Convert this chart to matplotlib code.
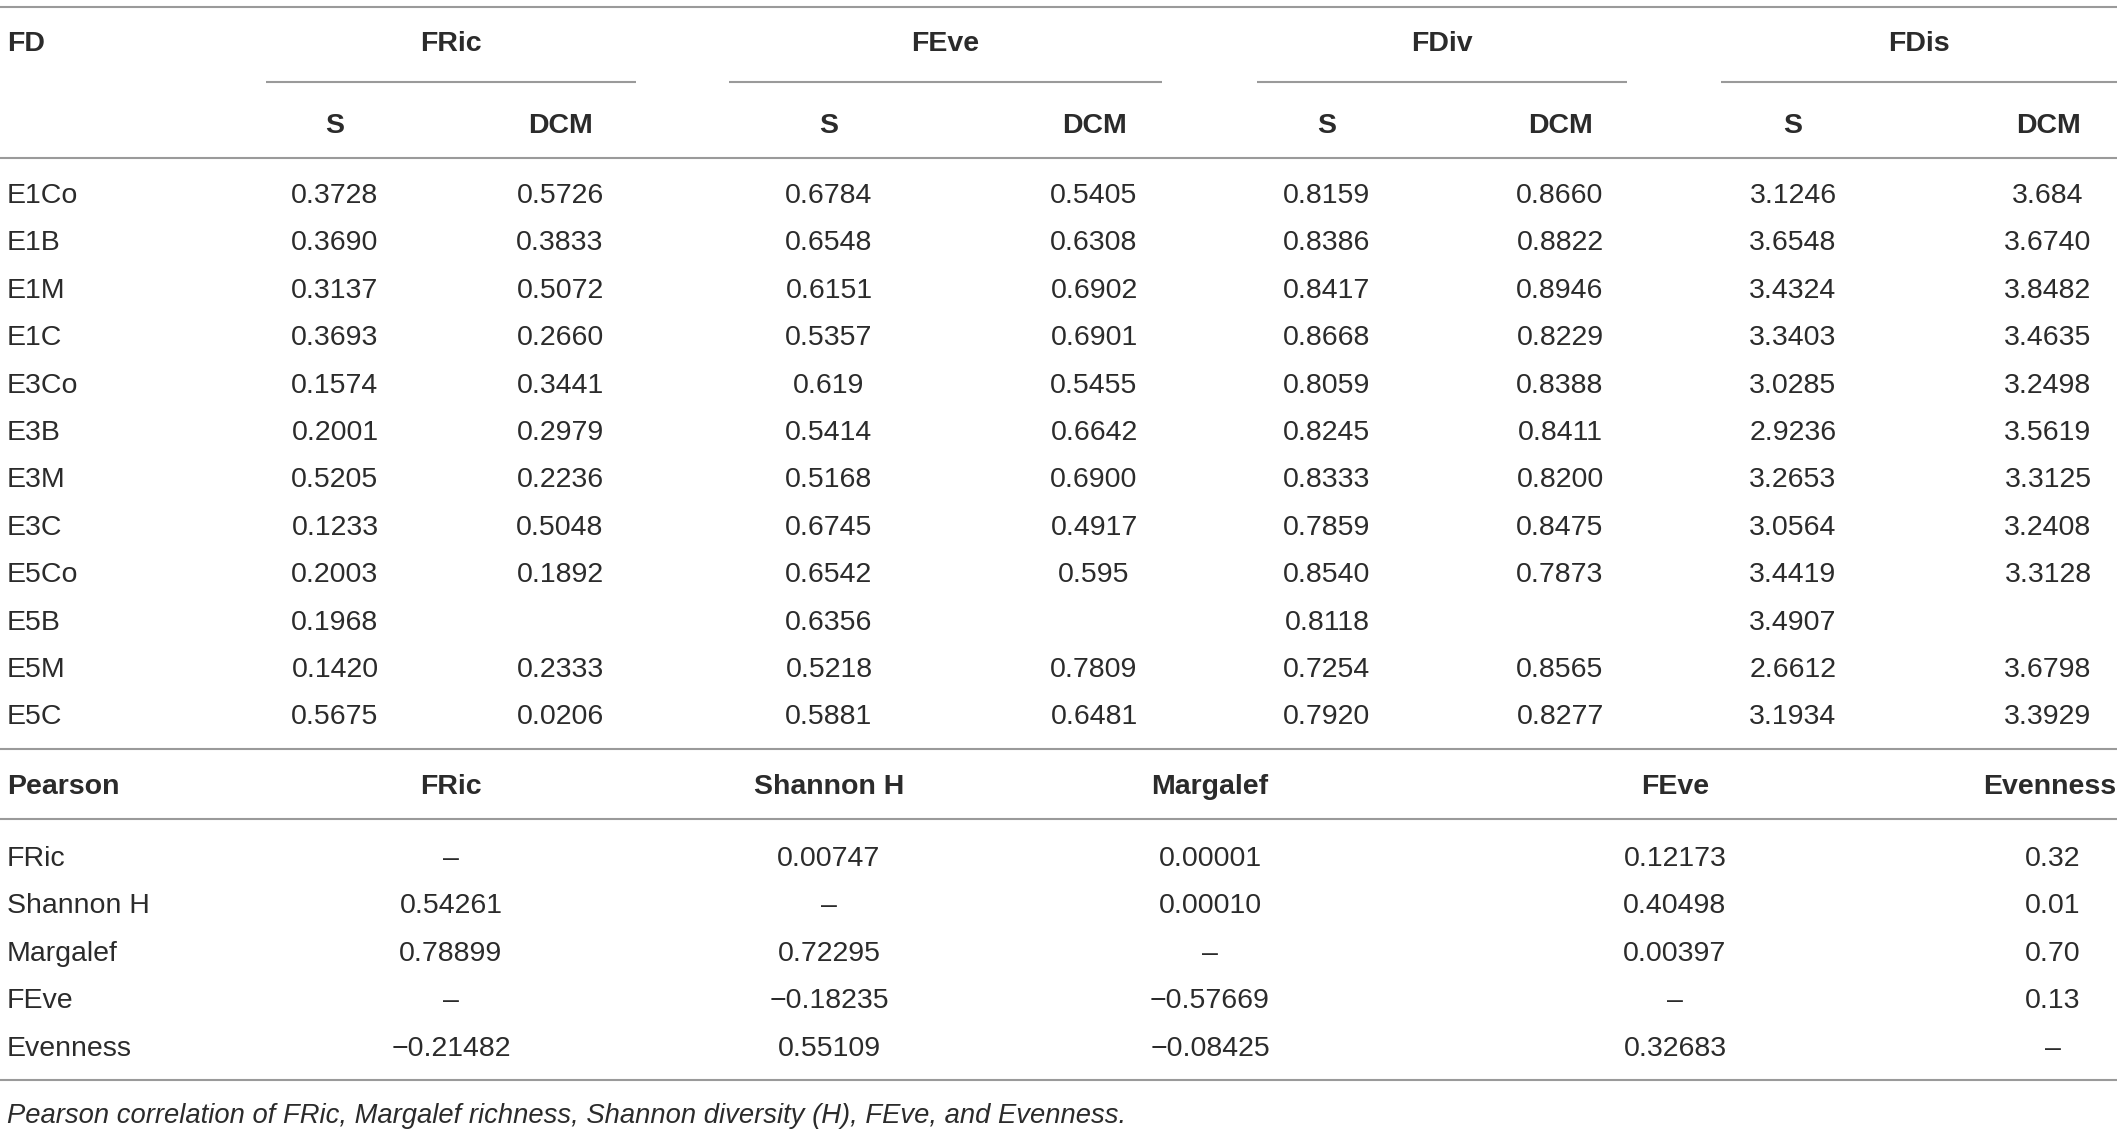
import matplotlib
matplotlib.use("Agg")
import matplotlib.pyplot as plt

plt.rcParams['font.family'] = ['Liberation Sans', 'DejaVu Sans']

# FD table
fd_groups = ["FRic", "FEve", "FDiv", "FDis"]
fd_sub = ["S", "DCM"]
sites = ["E1Co", "E1B", "E1M", "E1C", "E3Co", "E3B", "E3M", "E3C",
         "E5Co", "E5B", "E5M", "E5C"]
fric_s = ["0.3728", "0.3690", "0.3137", "0.3693", "0.1574", "0.2001", "0.5205", "0.1233",
          "0.2003", "0.1968", "0.1420", "0.5675"]
fric_dcm = ["0.5726", "0.3833", "0.5072", "0.2660", "0.3441", "0.2979", "0.2236", "0.5048",
            "0.1892", "", "0.2333", "0.0206"]
feve_s = ["0.6784", "0.6548", "0.6151", "0.5357", "0.619", "0.5414", "0.5168", "0.6745",
          "0.6542", "0.6356", "0.5218", "0.5881"]
feve_dcm = ["0.5405", "0.6308", "0.6902", "0.6901", "0.5455", "0.6642", "0.6900", "0.4917",
            "0.595", "", "0.7809", "0.6481"]
fdiv_s = ["0.8159", "0.8386", "0.8417", "0.8668", "0.8059", "0.8245", "0.8333", "0.7859",
          "0.8540", "0.8118", "0.7254", "0.7920"]
fdiv_dcm = ["0.8660", "0.8822", "0.8946", "0.8229", "0.8388", "0.8411", "0.8200", "0.8475",
            "0.7873", "", "0.8565", "0.8277"]
fdis_s = ["3.1246", "3.6548", "3.4324", "3.3403", "3.0285", "2.9236", "3.2653", "3.0564",
          "3.4419", "3.4907", "2.6612", "3.1934"]
fdis_dcm = ["3.684", "3.6740", "3.8482", "3.4635", "3.2498", "3.5619", "3.3125", "3.2408",
            "3.3128", "", "3.6798", "3.3929"]

# Pearson table
pearson_cols = ["FRic", "Shannon H", "Margalef", "FEve", "Evenness"]
pearson_rows = ["FRic", "Shannon H", "Margalef", "FEve", "Evenness"]
p_fric = ["\u2013", "0.54261", "0.78899", "\u2013", "\u22120.21482"]
p_shannon = ["0.00747", "\u2013", "0.72295", "\u22120.18235", "0.55109"]
p_margalef = ["0.00001", "0.00010", "\u2013", "\u22120.57669", "\u22120.08425"]
p_feve = ["0.12173", "0.40498", "0.00397", "\u2013", "0.32683"]
p_even = ["0.32", "0.01", "0.70", "0.13", "\u2013"]

caption = "Pearson correlation of FRic, Margalef richness, Shannon diversity (H), FEve, and Evenness."

W, H = 2117, 1130
fig = plt.figure(figsize=(W / 100, H / 100), dpi=100)
ax = fig.add_axes([0, 0, 1, 1])
ax.set_xlim(0, W)
ax.set_ylim(H, 0)
ax.axis('off')

txt_col = '#2b2b2b'
line_col = '#9a9a9a'
fs = 20.5
lw = 1.5
off = 3  # nudge text down a little


def hline(y, x0=0, x1=W):
    ax.plot([x0, x1], [y, y], color=line_col, lw=lw, solid_capstyle='butt')


def cell(x, y, s, ha='center', bold=False):
    ax.text(x, y + off, s, ha=ha, va='center', fontsize=fs,
            fontweight='bold' if bold else 'normal', color=txt_col)


# top table header
hline(7)
cell(7, 41, "FD", ha='left', bold=True)
group_x = [(266, 636), (729, 1162), (1257, 1627), (1721, 2117)]
col_x = [335, 560, 829, 1094, 1327, 1560, 1793, 2048]
for g, (x0, x1) in zip(fd_groups, group_x):
    cell((x0 + x1) / 2, 41, g, bold=True)
    hline(82, x0, x1)
for i, x in enumerate(col_x):
    cell(x, 123, fd_sub[i % 2], bold=True)
hline(158)

fd_cols = [fric_s, fric_dcm, feve_s, feve_dcm, fdiv_s, fdiv_dcm, fdis_s, fdis_dcm]
y0, dy = 193, 47.4
for r, site in enumerate(sites):
    y = y0 + r * dy
    cell(7, y, site, ha='left')
    for x, col in zip(col_x, fd_cols):
        cell(x, y, col[r])
hline(749)

# Pearson table
cell(7, 784, "Pearson", ha='left', bold=True)
p_x = [451, 829, 1210, 1675, 2053]
for x, c in zip(p_x[:-1], pearson_cols[:-1]):
    cell(x, 784, c, bold=True)
cell(W - 1, 784, pearson_cols[-1], ha='right', bold=True)
hline(819)

p_data = [p_fric, p_shannon, p_margalef, p_feve, p_even]
for r, name in enumerate(pearson_rows):
    y = 856 + r * dy
    cell(7, y, name, ha='left')
    for x, col in zip(p_x, p_data):
        cell(x, y, col[r])
hline(1080)

ax.text(7, 1116, caption, ha='left', va='center', fontsize=19.7, fontstyle='italic',
        color=txt_col)

fig.savefig("out.png", dpi=100)
